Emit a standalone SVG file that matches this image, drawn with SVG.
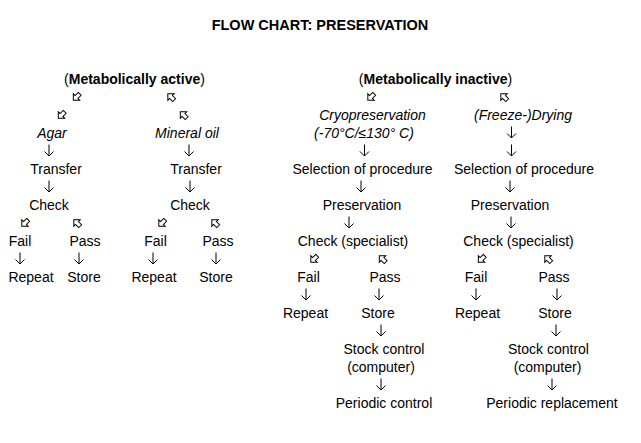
<svg xmlns="http://www.w3.org/2000/svg" xmlns:xlink="http://www.w3.org/1999/xlink" width="641" height="443" viewBox="0 0 641 443">
<style>
text{font-family:"Liberation Sans",Arial,sans-serif;font-size:14px;text-anchor:middle;fill:#000}
.i{font-style:italic}
.b{font-weight:bold}
.title{font-size:14.5px;font-weight:bold}
.dn{fill:none;stroke:#000;stroke-width:1}
.dg{fill:#fff;stroke:#000;stroke-width:1;stroke-linejoin:miter}
</style>
<defs>
<path id="dn" class="dn" d="M0,-11.5 V0 M-4.5,-4.5 L0,0 L4.5,-4.5"/>
<path id="dg" class="dg" d="M-2,-4.5 L2,-4.5 L2,0 L4.5,0 L0,4.5 L-4.5,0 L-2,0 Z"/>
</defs>
<rect width="641" height="443" fill="#fff"/>
<text id="title" x="320" y="30" class="title">FLOW CHART: PRESERVATION</text>

<g id="connectors">
<use xlink:href="#dg" href="#dg" transform="translate(76.5,97) rotate(45)"/>
<use xlink:href="#dg" href="#dg" transform="translate(171,97) rotate(135)"/>
<use xlink:href="#dg" href="#dg" transform="translate(61.5,115) rotate(45)"/>
<use xlink:href="#dg" href="#dg" transform="translate(183.5,115) rotate(135)"/>
<use xlink:href="#dg" href="#dg" transform="translate(371,97) rotate(45)"/>
<use xlink:href="#dg" href="#dg" transform="translate(504,97) rotate(135)"/>
<use xlink:href="#dg" href="#dg" transform="translate(25,223) rotate(45)"/>
<use xlink:href="#dg" href="#dg" transform="translate(77,223) rotate(135)"/>
<use xlink:href="#dg" href="#dg" transform="translate(162,223) rotate(45)"/>
<use xlink:href="#dg" href="#dg" transform="translate(215,223) rotate(135)"/>
<use xlink:href="#dg" href="#dg" transform="translate(314,259) rotate(45)"/>
<use xlink:href="#dg" href="#dg" transform="translate(382.5,259) rotate(135)"/>
<use xlink:href="#dg" href="#dg" transform="translate(481.5,259) rotate(45)"/>
<use xlink:href="#dg" href="#dg" transform="translate(548,259) rotate(135)"/>
<use xlink:href="#dn" href="#dn" transform="translate(511.5,138)"/>
<use xlink:href="#dn" href="#dn" transform="translate(49,156)"/>
<use xlink:href="#dn" href="#dn" transform="translate(189,156)"/>
<use xlink:href="#dn" href="#dn" transform="translate(364.5,156)"/>
<use xlink:href="#dn" href="#dn" transform="translate(511.5,156)"/>
<use xlink:href="#dn" href="#dn" transform="translate(49,192)"/>
<use xlink:href="#dn" href="#dn" transform="translate(190,192)"/>
<use xlink:href="#dn" href="#dn" transform="translate(361,192)"/>
<use xlink:href="#dn" href="#dn" transform="translate(510,192)"/>
<use xlink:href="#dn" href="#dn" transform="translate(349,228)"/>
<use xlink:href="#dn" href="#dn" transform="translate(511,228)"/>
<use xlink:href="#dn" href="#dn" transform="translate(20,264)"/>
<use xlink:href="#dn" href="#dn" transform="translate(79,264)"/>
<use xlink:href="#dn" href="#dn" transform="translate(153,264)"/>
<use xlink:href="#dn" href="#dn" transform="translate(216,264)"/>
<use xlink:href="#dn" href="#dn" transform="translate(306,300)"/>
<use xlink:href="#dn" href="#dn" transform="translate(379,300)"/>
<use xlink:href="#dn" href="#dn" transform="translate(476,300)"/>
<use xlink:href="#dn" href="#dn" transform="translate(557,300)"/>
<use xlink:href="#dn" href="#dn" transform="translate(381,336)"/>
<use xlink:href="#dn" href="#dn" transform="translate(556,336)"/>
<use xlink:href="#dn" href="#dn" transform="translate(381,390)"/>
<use xlink:href="#dn" href="#dn" transform="translate(552,390)"/>
</g>

<g id="active"><text x="134.5" y="84">(<tspan class="b">Metabolically active</tspan>)</text></g>
<g id="inactive"><text x="435.5" y="84">(<tspan class="b">Metabolically inactive</tspan>)</text></g>

<g id="agar"><text x="52" y="138" class="i">Agar</text></g>
<g id="mineral-oil"><text x="187" y="138" class="i">Mineral oil</text></g>
<g id="cryo"><text x="372.5" y="120" class="i">Cryopreservation</text><text x="364" y="138" class="i">(-70°C/≤130° C)</text></g>
<g id="drying"><text x="523" y="120" class="i">(Freeze-)Drying</text></g>

<g id="transfer-1"><text x="56" y="174">Transfer</text></g>
<g id="transfer-2"><text x="196" y="174">Transfer</text></g>
<g id="selection-1"><text x="362.5" y="174">Selection of procedure</text></g>
<g id="selection-2"><text x="524" y="174">Selection of procedure</text></g>

<g id="check-1"><text x="49" y="210">Check</text></g>
<g id="check-2"><text x="190" y="210">Check</text></g>
<g id="preservation-1"><text x="362" y="210">Preservation</text></g>
<g id="preservation-2"><text x="510" y="210">Preservation</text></g>

<g id="fail-1"><text x="20" y="246">Fail</text></g>
<g id="pass-1"><text x="85" y="246">Pass</text></g>
<g id="fail-2"><text x="155.5" y="246">Fail</text></g>
<g id="pass-2"><text x="218" y="246">Pass</text></g>
<g id="check-spec-1"><text x="353" y="246">Check (specialist)</text></g>
<g id="check-spec-2"><text x="518.5" y="246">Check (specialist)</text></g>

<g id="repeat-1"><text x="31" y="282">Repeat</text></g>
<g id="store-1"><text x="84" y="282">Store</text></g>
<g id="repeat-2"><text x="154" y="282">Repeat</text></g>
<g id="store-2"><text x="216" y="282">Store</text></g>
<g id="fail-3"><text x="308.5" y="282">Fail</text></g>
<g id="pass-3"><text x="385" y="282">Pass</text></g>
<g id="fail-4"><text x="476" y="282">Fail</text></g>
<g id="pass-4"><text x="554" y="282">Pass</text></g>

<g id="repeat-3"><text x="305.5" y="318">Repeat</text></g>
<g id="store-3"><text x="378" y="318">Store</text></g>
<g id="repeat-4"><text x="477.5" y="318">Repeat</text></g>
<g id="store-4"><text x="555" y="318">Store</text></g>

<g id="stock-1"><text x="384" y="354">Stock control</text><text x="381" y="372">(computer)</text></g>
<g id="stock-2"><text x="548.5" y="354">Stock control</text><text x="547.5" y="372">(computer)</text></g>

<g id="periodic-1"><text x="384" y="408">Periodic control</text></g>
<g id="periodic-2"><text x="552" y="408">Periodic replacement</text></g>
</svg>
